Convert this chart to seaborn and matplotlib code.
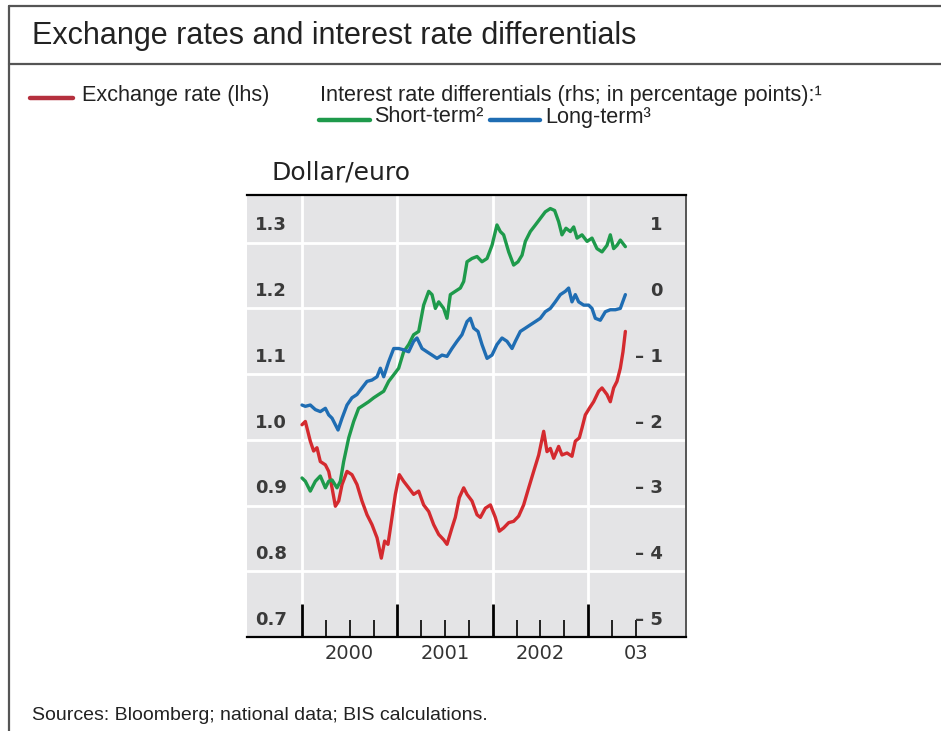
import numpy as np
import matplotlib
matplotlib.use("Agg")
import matplotlib.pyplot as plt
import matplotlib.transforms as mtransforms
from matplotlib.lines import Line2D
import seaborn as sns

# Dollar/euro exchange rate (lhs), decimal years
fx_time = [2000.000, 2000.035, 2000.087, 2000.122, 2000.157, 2000.192, 2000.245, 2000.280,
           2000.315, 2000.350, 2000.385, 2000.420, 2000.472, 2000.524, 2000.577, 2000.629,
           2000.682, 2000.734, 2000.787, 2000.832, 2000.867, 2000.902, 2000.944, 2000.979,
           2001.021, 2001.066, 2001.119, 2001.171, 2001.224, 2001.276, 2001.329, 2001.381,
           2001.434, 2001.486, 2001.521, 2001.573, 2001.608, 2001.650, 2001.696, 2001.731,
           2001.783, 2001.836, 2001.871, 2001.923, 2001.976, 2002.028, 2002.070, 2002.115,
           2002.168, 2002.220, 2002.273, 2002.325, 2002.378, 2002.430, 2002.483, 2002.535,
           2002.570, 2002.605, 2002.640, 2002.692, 2002.727, 2002.780, 2002.832, 2002.867,
           2002.909, 2002.937, 2002.972, 2003.014, 2003.059, 2003.112, 2003.147, 2003.199,
           2003.234, 2003.269, 2003.304, 2003.339, 2003.367, 2003.392]
fx_rate = [1.023, 1.028, 0.998, 0.983, 0.988, 0.967, 0.962, 0.952,
           0.927, 0.899, 0.907, 0.932, 0.952, 0.947, 0.932, 0.907,
           0.886, 0.871, 0.851, 0.820, 0.846, 0.841, 0.882, 0.917,
           0.947, 0.937, 0.927, 0.917, 0.922, 0.901, 0.891, 0.871,
           0.856, 0.848, 0.841, 0.866, 0.882, 0.912, 0.927, 0.917,
           0.907, 0.886, 0.882, 0.896, 0.901, 0.882, 0.861, 0.866,
           0.874, 0.876, 0.884, 0.901, 0.927, 0.952, 0.977, 1.013,
           0.982, 0.987, 0.972, 0.990, 0.977, 0.980, 0.975, 0.998,
           1.003, 1.018, 1.038, 1.048, 1.058, 1.074, 1.079, 1.069,
           1.058, 1.079, 1.089, 1.109, 1.134, 1.165]

# Short-term interest rate differential (rhs, percentage points)
short_time = [2000.000, 2000.035, 2000.087, 2000.140, 2000.192, 2000.245, 2000.280, 2000.315,
              2000.367, 2000.402, 2000.437, 2000.490, 2000.542, 2000.594, 2000.647, 2000.699,
              2000.752, 2000.804, 2000.857, 2000.909, 2000.962, 2001.014, 2001.066, 2001.119,
              2001.171, 2001.224, 2001.276, 2001.329, 2001.364, 2001.399, 2001.434, 2001.486,
              2001.521, 2001.556, 2001.608, 2001.661, 2001.696, 2001.731, 2001.783, 2001.836,
              2001.888, 2001.941, 2001.993, 2002.045, 2002.080, 2002.115, 2002.168, 2002.220,
              2002.266, 2002.308, 2002.343, 2002.395, 2002.448, 2002.500, 2002.552, 2002.605,
              2002.650, 2002.692, 2002.727, 2002.769, 2002.815, 2002.850, 2002.885, 2002.937,
              2002.990, 2003.042, 2003.094, 2003.147, 2003.199, 2003.234, 2003.269, 2003.304,
              2003.339, 2003.392]
short_diff = [-2.58, -2.63, -2.78, -2.63, -2.55, -2.73, -2.63, -2.61,
              -2.73, -2.63, -2.33, -1.97, -1.72, -1.52, -1.47, -1.42,
              -1.36, -1.31, -1.26, -1.11, -1.01, -0.91, -0.66, -0.55,
              -0.40, -0.35, 0.05, 0.26, 0.21, 0.00, 0.10, 0.00,
              -0.15, 0.21, 0.26, 0.31, 0.41, 0.71, 0.76, 0.79,
              0.71, 0.76, 0.96, 1.27, 1.17, 1.12, 0.86, 0.66,
              0.71, 0.81, 1.02, 1.17, 1.27, 1.37, 1.47, 1.52,
              1.49, 1.32, 1.12, 1.22, 1.17, 1.24, 1.07, 1.12,
              1.02, 1.07, 0.91, 0.86, 0.96, 1.12, 0.91, 0.96,
              1.04, 0.94]

# Long-term interest rate differential (rhs, percentage points)
long_time = [2000.000, 2000.035, 2000.087, 2000.140, 2000.192, 2000.245, 2000.280, 2000.315,
             2000.350, 2000.378, 2000.420, 2000.472, 2000.524, 2000.577, 2000.629, 2000.682,
             2000.734, 2000.787, 2000.822, 2000.857, 2000.909, 2000.962, 2001.014, 2001.066,
             2001.119, 2001.171, 2001.206, 2001.259, 2001.311, 2001.364, 2001.416, 2001.469,
             2001.521, 2001.573, 2001.626, 2001.678, 2001.731, 2001.766, 2001.801, 2001.846,
             2001.888, 2001.941, 2001.993, 2002.045, 2002.098, 2002.150, 2002.203, 2002.238,
             2002.290, 2002.343, 2002.395, 2002.448, 2002.500, 2002.552, 2002.605, 2002.657,
             2002.710, 2002.762, 2002.797, 2002.832, 2002.867, 2002.902, 2002.955, 2003.007,
             2003.042, 2003.077, 2003.129, 2003.182, 2003.234, 2003.287, 2003.339, 2003.392]
long_diff = [-1.47, -1.49, -1.47, -1.54, -1.57, -1.52, -1.62, -1.67,
             -1.77, -1.85, -1.67, -1.47, -1.36, -1.31, -1.21, -1.11,
             -1.09, -1.04, -0.91, -1.04, -0.81, -0.61, -0.61, -0.63,
             -0.66, -0.50, -0.45, -0.61, -0.66, -0.71, -0.76, -0.71,
             -0.73, -0.61, -0.50, -0.40, -0.20, -0.15, -0.30, -0.35,
             -0.55, -0.76, -0.71, -0.55, -0.45, -0.50, -0.61, -0.50,
             -0.35, -0.30, -0.25, -0.20, -0.15, -0.05, 0.00, 0.10,
             0.21, 0.26, 0.31, 0.10, 0.21, 0.10, 0.05, 0.05,
             0.00, -0.15, -0.18, -0.05, -0.02, -0.02, 0.00, 0.21]

left_ticks = [0.7, 0.8, 0.9, 1.0, 1.1, 1.2, 1.3]
left_labels = ['0.7', '0.8', '0.9', '1.0', '1.1', '1.2', '1.3']
right_ticks = [-5, -4, -3, -2, -1, 0, 1]
right_labels = ['\u2013 5', '\u2013 4', '\u2013 3', '\u2013 2', '\u2013 1', '0', '1']
years = [2000, 2001, 2002, 2003]
year_labels = ['2000', '2001', '2002', '03']

RED = '#d42a2f'
GREEN = '#1e9a4b'
BLUE = '#1f6db3'
BG = '#e4e4e6'
TEXTF = ['Liberation Sans', 'DejaVu Sans']
AXISF = ['DejaVu Sans']

sns.set_theme(style='white')
plt.rcParams['font.family'] = TEXTF

fig = plt.figure(figsize=(9.41, 7.31), dpi=100)
W, H = 941, 731

def fx(px):
    return px / W

def fy(py):
    return 1 - py / H

# outer frame
frame_kw = dict(color='#555555', lw=1.6, transform=fig.transFigure)
fig.add_artist(Line2D([fx(9), 1], [fy(6), fy(6)], **frame_kw))
fig.add_artist(Line2D([fx(9), 1], [fy(64), fy(64)], **frame_kw))
fig.add_artist(Line2D([fx(9), fx(9)], [fy(6), 0], **frame_kw))

fig.text(fx(32), fy(36), 'Exchange rates and interest rate differentials',
         family=TEXTF, fontsize=22, color='#222222', va='center', ha='left')

# legend
fs_leg = 15.6
fig.add_artist(Line2D([fx(30), fx(73)], [fy(98), fy(98)], color='#b5303e', lw=3.2,
                      transform=fig.transFigure))
fig.text(fx(82), fy(96), 'Exchange rate (lhs)', family=TEXTF, fontsize=fs_leg,
         color='#222222', va='center')
fig.text(fx(320), fy(96), 'Interest rate differentials (rhs; in percentage points):\u00b9',
         family=TEXTF, fontsize=fs_leg, color='#222222', va='center')
fig.add_artist(Line2D([fx(319), fx(370)], [fy(120), fy(120)], color=GREEN, lw=3.2,
                      transform=fig.transFigure))
fig.text(fx(374), fy(117), 'Short-term\u00b2', family=TEXTF, fontsize=fs_leg,
         color='#222222', va='center')
fig.add_artist(Line2D([fx(490), fx(540)], [fy(120), fy(120)], color=BLUE, lw=3.2,
                      transform=fig.transFigure))
fig.text(fx(545), fy(117), 'Long-term\u00b3', family=TEXTF, fontsize=fs_leg,
         color='#222222', va='center')

fig.text(fx(272), fy(172), 'Dollar/euro', family=AXISF, fontsize=18,
         color='#222222', va='center')

fig.text(fx(32), fy(716), 'Sources: Bloomberg; national data; BIS calculations.',
         family=TEXTF, fontsize=14, color='#222222', va='center')

# plot area
ax = fig.add_axes([fx(247), fy(637), fx(686) - fx(247), fy(195) - fy(637)])
ax.set_facecolor(BG)
ax2 = ax.twinx()

sns.lineplot(x=fx_time, y=fx_rate, ax=ax, color=RED, lw=2.4, zorder=3)
sns.lineplot(x=short_time, y=short_diff, ax=ax2, color=GREEN, lw=2.4)
sns.lineplot(x=long_time, y=long_diff, ax=ax2, color=BLUE, lw=2.4)

ax.set_xlim(1999.423, 2004.028)
ax.set_ylim(0.7, 1.3726)
ax2.set_ylim(-5, 1.726)

ax.set_xticks(years)
ax.set_xticks([y + q for y in years for q in (0.25, 0.5, 0.75) if y + q < 2003.6], minor=True)
ax.set_xticklabels([])
ax.tick_params(axis='x', which='major', direction='in', length=24, width=2.0,
               color='black', bottom=True)
ax.tick_params(axis='x', which='minor', direction='in', length=12, width=1.2,
               color='black', bottom=True)
ax.set_yticks(left_ticks)
ax.set_yticklabels([])
ax.tick_params(axis='y', length=0)
ax.grid(True, axis='both', which='major', color='white', lw=2.0)
ax.set_axisbelow(True)

ax2.set_yticks(right_ticks)
ax2.set_yticklabels([])
ax2.tick_params(axis='y', length=0)
ax2.grid(False)
for sp in ax2.spines.values():
    sp.set_visible(False)

ax.spines['left'].set_visible(False)
ax.spines['top'].set_color('black')
ax.spines['top'].set_linewidth(1.6)
ax.spines['bottom'].set_color('black')
ax.spines['bottom'].set_linewidth(1.6)
ax.spines['right'].set_color('#555555')
ax.spines['right'].set_linewidth(1.4)
ax.set_xlabel('')
ax.set_ylabel('')
ax2.set_ylabel('')

lab_kw = dict(family=AXISF, fontsize=13, fontweight='bold', color='#3a3a3a', va='bottom')
tl = mtransforms.offset_copy(mtransforms.blended_transform_factory(ax.transAxes, ax.transData),
                             fig=fig, y=6, units='points')
for v, s in zip(left_ticks, left_labels):
    ax.text(0.018, v, s, transform=tl, ha='left', **lab_kw)
tr = mtransforms.offset_copy(mtransforms.blended_transform_factory(ax2.transAxes, ax2.transData),
                             fig=fig, y=6, units='points')
for v, s in zip(right_ticks, right_labels):
    ax2.text(0.947, v, s, transform=tr, ha='right', **lab_kw)

tx = mtransforms.offset_copy(mtransforms.blended_transform_factory(ax.transData, ax.transAxes),
                             fig=fig, y=-5, units='points')
for y, s in zip(years, year_labels):
    ax.text(y + 0.5, 0, s, transform=tx, ha='center', va='top', family=AXISF,
            fontsize=14, color='#333333')

fig.savefig('out.png', dpi=100)
